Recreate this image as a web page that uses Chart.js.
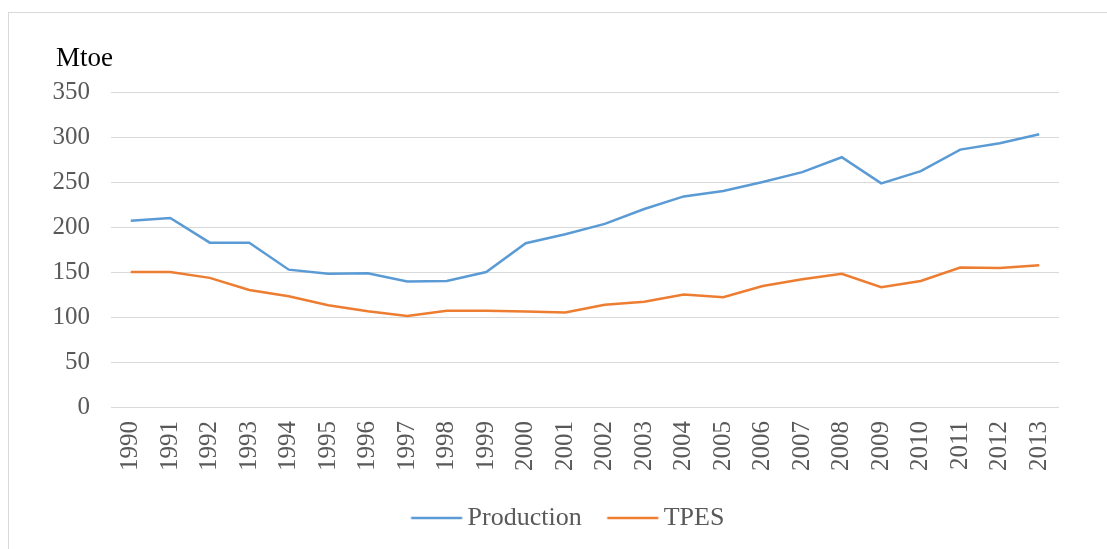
<!DOCTYPE html>
<html>
<head>
<meta charset="utf-8">
<script src="https://cdn.jsdelivr.net/npm/chart.js@4/dist/chart.umd.min.js"></script>
<style>
html,body{margin:0;padding:0;background:#fff;}
#wrap{position:absolute;left:0;top:0;width:1107px;height:549px;}
</style>
</head>
<body>
<div id="wrap"><canvas id="c" width="1107" height="549"></canvas></div>
<script>
const years = ["1990","1991","1992","1993","1994","1995","1996","1997","1998","1999","2000","2001","2002","2003","2004","2005","2006","2007","2008","2009","2010","2011","2012","2013"];
const production = [207,210,182.6,182.5,152.6,148,148.5,139.5,140,150,182,192,203.5,220,234,240,250,261,277.5,248.5,262,286,293,303];
const tpes = [150,150,143.5,130,123,113,106.5,101,107,107,106,105,113.5,117,125,122,134.5,142,148,133,140,155,154.5,157.5];
const yTicks = [0,50,100,150,200,250,300,350];
const unitLabel = "Mtoe";

const FONT = "'Liberation Serif', 'Times New Roman', serif";

// legend swatch: a short line drawn into a small canvas
function swatch(color) {
  const c = document.createElement('canvas');
  c.width = 120; c.height = 4;
  const g = c.getContext('2d');
  g.fillStyle = color;
  g.fillRect(36.5, 0.75, 51, 2.5);
  return c;
}

const frame = {
  id: 'frame',
  beforeDraw(chart) {
    const ctx = chart.ctx;
    ctx.save();
    ctx.strokeStyle = '#D9D9D9';
    ctx.lineWidth = 1;
    ctx.strokeRect(8.5, 12.5, 1200, 600);
    ctx.restore();
    if (chart.legend && !chart.legend._shifted) {
      chart.legend.left += 40;
      chart.legend.right += 40;
      chart.legend._shifted = true;
    }
  },
  afterDraw(chart) {
    const ctx = chart.ctx;
    ctx.save();
    ctx.fillStyle = '#000';
    ctx.font = "27px " + FONT;
    ctx.textBaseline = 'alphabetic';
    ctx.textAlign = 'left';
    ctx.fillText(unitLabel, 56, 66);
    ctx.restore();
  }
};

new Chart(document.getElementById('c'), {
  type: 'line',
  data: {
    labels: years,
    datasets: [
      {label: 'Production', data: production, borderColor: '#5B9BD5', backgroundColor: '#5B9BD5', borderWidth: 2.5, pointRadius: 0, pointHoverRadius: 0, pointStyle: swatch('#5B9BD5'), tension: 0},
      {label: 'TPES', data: tpes, borderColor: '#ED7D31', backgroundColor: '#ED7D31', borderWidth: 2.5, pointRadius: 0, pointHoverRadius: 0, pointStyle: swatch('#ED7D31'), tension: 0}
    ]
  },
  options: {
    responsive: false,
    animation: false,
    layout: {padding: {top: 92, right: 48, left: 0, bottom: 8}},
    plugins: {
      tooltip: {enabled: false},
      legend: {
        position: 'bottom',
        labels: {
          usePointStyle: true,
          pointStyleWidth: 40,
          color: '#595959',
          font: {family: FONT, size: 26},
          padding: 29
        }
      }
    },
    scales: {
      x: {
        offset: true,
        grid: {display: false, drawTicks: false},
        border: {display: false},
        ticks: {color: '#595959', font: {family: FONT, size: 25}, minRotation: 90, maxRotation: 90, padding: 14, autoSkip: false},
        afterFit(s) { s.height = 69; }
      },
      y: {
        min: 0, max: 350,
        afterBuildTicks(s) { s.ticks = yTicks.map(v => ({value: v})); },
        grid: {color: '#D9D9D9', lineWidth: 1, drawTicks: false},
        border: {display: false},
        ticks: {color: '#595959', font: {family: FONT, size: 25}, padding: 21},
        afterFit(s) { s.width = 111; }
      }
    }
  },
  plugins: [frame]
});
</script>
</body>
</html>
